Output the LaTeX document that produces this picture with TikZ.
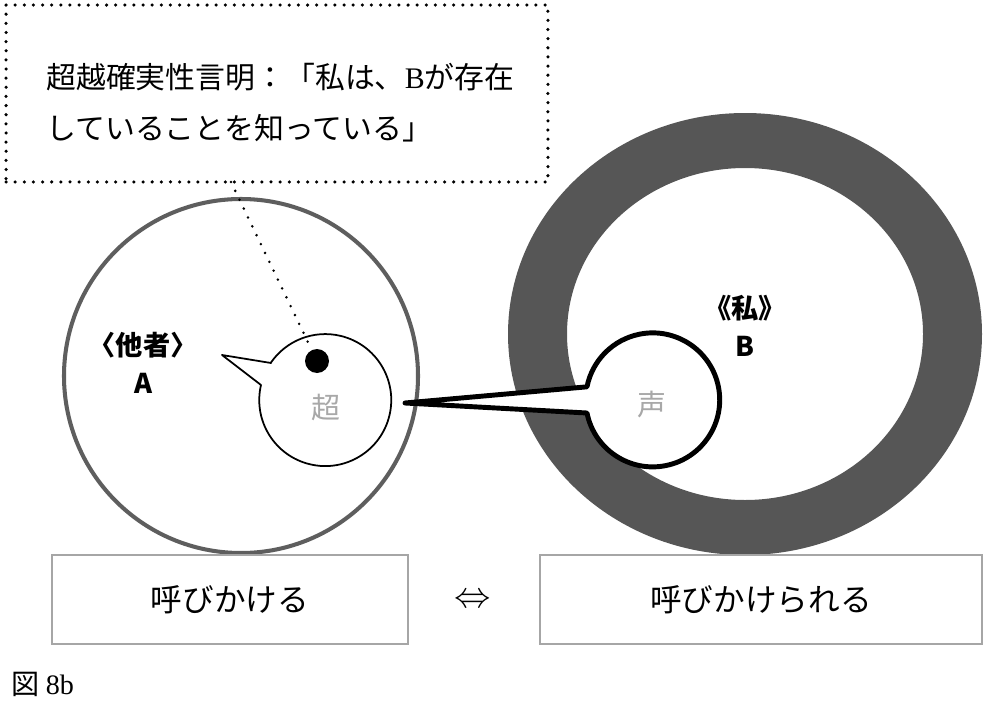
\documentclass[tikz,border=0pt]{standalone}
\usepackage{fontspec}
\setmainfont{Noto Sans CJK JP}
\newfontfamily\latinserif{Liberation Serif}
\usetikzlibrary{positioning}

\definecolor{ringgray}{RGB}{86,86,86}
\definecolor{rimgray}{RGB}{94,94,94}
\definecolor{boxgray}{RGB}{166,166,166}
\definecolor{glyphgray}{RGB}{168,168,168}

\begin{document}
\begin{tikzpicture}[
  x=0.02cm, y=-0.02cm,
  claimbox/.style={draw=black, line width=2pt, line cap=round, dash pattern=on 0pt off 5.2pt,
    minimum width=10.84cm, minimum height=3.54cm, inner sep=0pt},
  claimtext/.style={align=left, inner sep=0pt, font=\fontsize{17}{29}\selectfont},
  leader/.style={line width=1.6pt, line cap=round, dash pattern=on 0pt off 5.6pt},
  rolelabel/.style={align=center, inner sep=0pt, font=\fontsize{15.5}{21.5}\selectfont\bfseries},
  voice/.style={text=glyphgray, inner sep=0pt, font=\fontsize{16.5}{18}\selectfont},
  actbox/.style={draw=boxgray, line width=1.4pt, minimum height=1.78cm, inner sep=0pt,
    font=\fontsize{18}{20}\selectfont}
]

\useasboundingbox (0,0) rectangle (990,703);

% other (A) and self (B)
\draw[rimgray, line width=2.3pt, fill=white] (241,376) circle [radius=177];
\fill[ringgray, even odd rule] (745,334) ellipse [x radius=237, y radius=221]
                                 (745,334) ellipse [x radius=178, y radius=166];

% speech bubble of A
\draw[line width=1pt, fill=white, line join=round]
  (271,363) -- (222,355) -- (261,385) arc [start angle=193.2, end angle=-145.6, radius=66] -- cycle;
\node[voice] (hyper) at (326,407) {超};
\node[circle, fill=black, minimum size=0.48cm, inner sep=0pt] (dot) at (317,361) {};

% the voice reaching B
\draw[line width=2.8pt, fill=white, line join=round]
  (585,387) -- (405,403) -- (587,413) arc [start angle=168.7, end angle=-168.7, radius=67] -- cycle;
\node[voice] (voiceB) at (652,405) {声};

\node[rolelabel] (otherA) at (143,363) {〈他者〉\\A};
\node[rolelabel] (selfB) at (745,326) {《私》\\B};

% transcendental certainty claim
\node[claimbox] (claim) at (277,93.5) {};
\node[claimtext, anchor=west] (claimtext) at (46,102.5)
  {超越確実性言明：「私は、{\latinserif B}が存在\\していることを知っている」};
\coordinate (leadstart) at (231,182);
\draw[leader, shorten >=1.2mm] (leadstart) -- (dot);

% calling / being called
\node[actbox, minimum width=7.12cm] (calling) at (230,599.5) {呼びかける};
\node[actbox, minimum width=8.84cm] (called) at (761,599.5) {呼びかけられる};
\node[font=\fontsize{20}{22}\selectfont] (iff) at (473,601) {$\Leftrightarrow$};

\node[anchor=west, inner sep=0pt, font=\fontsize{16}{18}\selectfont] (caption) at (11,684)
  {図 {\latinserif 8b}};

\end{tikzpicture}
\end{document}
